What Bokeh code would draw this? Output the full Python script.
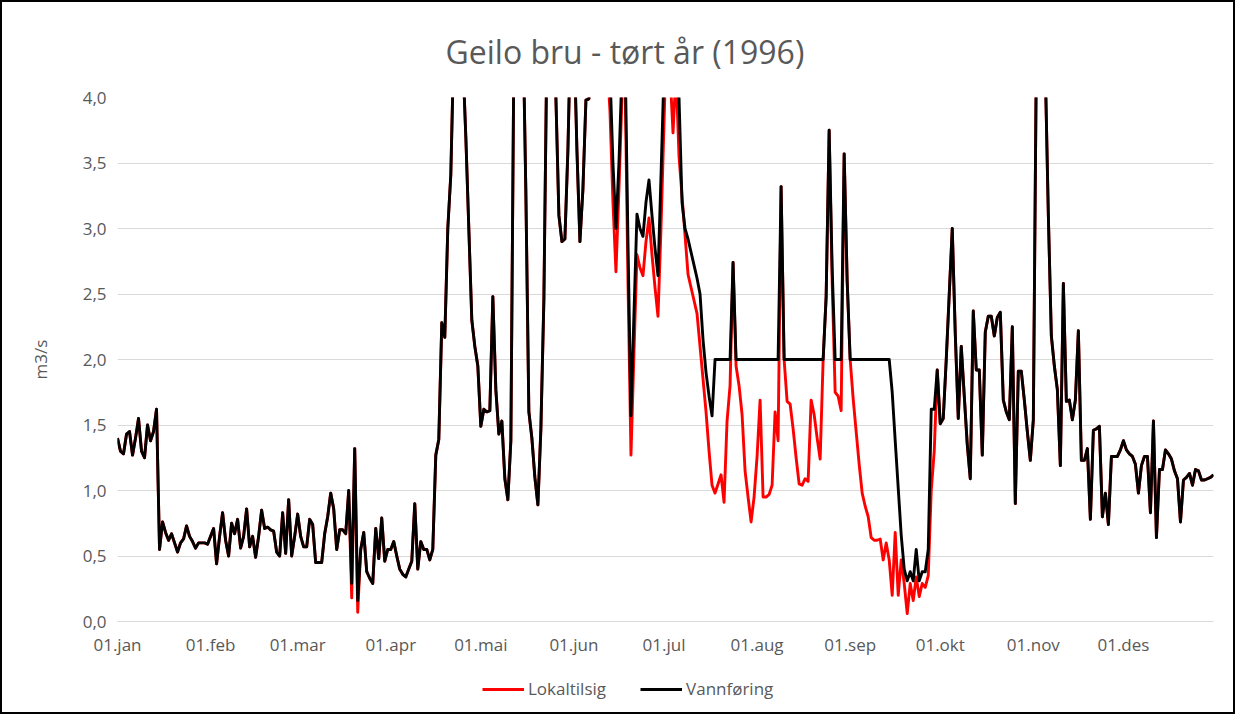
from bokeh.plotting import figure
from bokeh.layouts import column
from bokeh.models import Range1d, FixedTicker, Legend, LegendItem, CustomJSTickFormatter
from bokeh.embed import file_html
from bokeh.resources import INLINE

# ---------------- data (m3/s, one value per day of 1996) ----------------
vann_jan = [1.40, 1.30, 1.28, 1.43, 1.45, 1.27, 1.40, 1.55, 1.30, 1.25, 1.50, 1.38, 1.45, 1.62, 0.55,
            0.76, 0.68, 0.62, 0.67, 0.60, 0.53, 0.60, 0.63, 0.73, 0.65, 0.61, 0.56, 0.60, 0.60, 0.60, 0.59]
vann_feb = [0.65, 0.71, 0.44, 0.65, 0.83, 0.62, 0.50, 0.75, 0.67, 0.78, 0.56, 0.65, 0.86, 0.57, 0.65,
            0.49, 0.65, 0.85, 0.71, 0.72, 0.70, 0.69, 0.53, 0.50, 0.83, 0.52, 0.93, 0.50, 0.65]
vann_mar = [0.82, 0.65, 0.57, 0.57, 0.78, 0.74, 0.45, 0.45, 0.45, 0.67, 0.80, 0.98, 0.86, 0.55, 0.70,
            0.70, 0.67, 1.00, 0.29, 1.32, 0.16, 0.55, 0.68, 0.38, 0.33, 0.29, 0.71, 0.48, 0.79, 0.46, 0.55]
vann_apr = [0.55, 0.61, 0.50, 0.40, 0.36, 0.34, 0.40, 0.46, 0.90, 0.40, 0.61, 0.55, 0.55, 0.47, 0.55,
            1.27, 1.39, 2.28, 2.17, 3.00, 3.41, 4.40, 5.20, 5.60, 4.30, 3.70, 3.00, 2.30, 2.10, 1.95]
vann_mai = [1.49, 1.62, 1.60, 1.61, 2.48, 1.77, 1.43, 1.53, 1.09, 0.93, 1.38, 4.30, 5.50, 6.00, 4.60,
            3.27, 1.60, 1.40, 1.10, 0.89, 1.47, 2.46, 4.40, 5.50, 5.00, 4.00, 3.10, 2.90, 2.92, 3.60, 4.60]
vann_jun = [4.50, 3.60, 2.90, 3.30, 3.98, 3.99, 4.60, 5.50, 6.20, 5.80, 5.00, 4.60, 4.20, 3.50, 3.00,
            3.50, 4.20, 4.40, 2.90, 1.57, 2.35, 3.11, 3.00, 2.94, 3.20, 3.37, 3.10, 2.85, 2.64, 3.40]
vann_jul = [4.20, 5.00, 5.50, 5.00, 4.60, 4.00, 3.20, 3.00, 2.92, 2.82, 2.72, 2.62, 2.50, 2.15, 1.90,
            1.72, 1.57, 2.00, 2.00, 2.00, 2.00, 2.00, 2.00, 2.74, 2.00, 2.00, 2.00, 2.00, 2.00, 2.00, 2.00]
vann_aug = [2.00, 2.00, 2.00, 2.00, 2.00, 2.00, 2.00, 2.00, 3.32, 2.00, 2.00, 2.00, 2.00, 2.00, 2.00,
            2.00, 2.00, 2.00, 2.00, 2.00, 2.00, 2.00, 2.00, 2.48, 3.75, 2.70, 2.00, 2.00, 2.00, 3.57, 2.60]
vann_sep = [2.00, 2.00, 2.00, 2.00, 2.00, 2.00, 2.00, 2.00, 2.00, 2.00, 2.00, 2.00, 2.00, 2.00, 1.75,
            1.38, 1.02, 0.66, 0.40, 0.31, 0.38, 0.31, 0.55, 0.31, 0.38, 0.38, 0.55, 1.62, 1.62, 1.92]
vann_okt = [1.51, 1.55, 2.00, 2.50, 3.00, 2.20, 1.55, 2.10, 1.72, 1.35, 1.09, 2.37, 1.92, 1.92, 1.27,
            2.21, 2.33, 2.33, 2.18, 2.32, 2.36, 1.69, 1.60, 1.54, 2.25, 0.90, 1.91, 1.91, 1.69, 1.45, 1.23]
vann_nov = [1.54, 4.30, 5.60, 5.20, 4.20, 3.10, 2.18, 1.95, 1.77, 1.19, 2.58, 1.68, 1.69, 1.54, 1.69,
            2.22, 1.23, 1.23, 1.32, 0.78, 1.46, 1.47, 1.49, 0.80, 0.98, 0.74, 1.26, 1.26, 1.26, 1.31]
vann_des = [1.38, 1.31, 1.28, 1.26, 1.20, 0.98, 1.19, 1.26, 1.26, 0.83, 1.53, 0.64, 1.16, 1.16, 1.31,
            1.28, 1.24, 1.15, 1.09, 0.76, 1.08, 1.10, 1.13, 1.04, 1.16, 1.15, 1.08, 1.08, 1.09, 1.10, 1.12]

# Lokaltilsig: equal to Vannføring except in the months below
lok_mar = [0.82, 0.65, 0.57, 0.57, 0.78, 0.74, 0.45, 0.45, 0.45, 0.67, 0.80, 0.98, 0.86, 0.55, 0.70,
           0.70, 0.67, 1.00, 0.18, 1.32, 0.07, 0.55, 0.68, 0.38, 0.33, 0.29, 0.71, 0.48, 0.79, 0.46, 0.55]
lok_jun = [4.50, 3.60, 2.90, 3.30, 3.98, 3.99, 4.60, 5.20, 5.90, 5.50, 4.70, 4.30, 3.90, 3.20, 2.67,
           3.30, 4.00, 4.20, 2.60, 1.27, 2.05, 2.80, 2.70, 2.64, 2.90, 3.08, 2.80, 2.55, 2.33, 3.00]
lok_jul = [3.80, 4.60, 4.20, 3.73, 4.20, 3.55, 3.25, 2.95, 2.65, 2.55, 2.45, 2.35, 2.10, 1.85, 1.60,
           1.30, 1.04, 0.98, 1.05, 1.12, 0.91, 1.53, 1.80, 2.74, 1.95, 1.80, 1.58, 1.15, 0.95, 0.76, 0.95]
lok_aug = [1.26, 1.69, 0.95, 0.95, 0.97, 1.04, 1.60, 1.38, 3.32, 2.00, 1.68, 1.66, 1.47, 1.25, 1.05,
           1.04, 1.09, 1.07, 1.69, 1.58, 1.40, 1.24, 2.00, 2.48, 3.75, 2.60, 1.75, 1.72, 1.61, 3.57, 2.60]
lok_sep = [2.00, 1.70, 1.45, 1.20, 0.98, 0.88, 0.80, 0.64, 0.62, 0.62, 0.63, 0.47, 0.60, 0.47, 0.20,
           0.68, 0.20, 0.47, 0.29, 0.06, 0.29, 0.16, 0.34, 0.19, 0.29, 0.26, 0.35, 1.00, 1.30, 1.92]

month_labels = ["01.jan", "01.feb", "01.mar", "01.apr", "01.mai", "01.jun",
                "01.jul", "01.aug", "01.sep", "01.okt", "01.nov", "01.des"]
y_ticks = [0.0, 0.5, 1.0, 1.5, 2.0, 2.5, 3.0, 3.5, 4.0]
y_tick_labels = ["0,0", "0,5", "1,0", "1,5", "2,0", "2,5", "3,0", "3,5", "4,0"]
series_names = ["Lokaltilsig", "Vannføring"]
series_colors = ["#ff0000", "#000000"]

vann_months = [vann_jan, vann_feb, vann_mar, vann_apr, vann_mai, vann_jun,
               vann_jul, vann_aug, vann_sep, vann_okt, vann_nov, vann_des]
lok_months = [vann_jan, vann_feb, lok_mar, vann_apr, vann_mai, lok_jun,
              lok_jul, lok_aug, lok_sep, vann_okt, vann_nov, vann_des]

vann = [v for m in vann_months for v in m]
lokal = [v for m in lok_months for v in m]
days = list(range(len(vann)))
month_starts = []
acc = 0
for m in vann_months:
    month_starts.append(acc)
    acc += len(m)

TEXT = "#595959"
FONT = "Open Sans"
W = 1235
H_MAIN = 662
H_LEG = 52

# ---------------- main chart ----------------
p = figure(width=W, height=H_MAIN, output_backend="svg", toolbar_location=None,
           x_range=Range1d(0, len(vann) - 1), y_range=Range1d(0, 4),
           min_border_left=117, min_border_right=22, min_border_top=97,
           min_border_bottom=H_MAIN - 621,
           title="Geilo bru - tørt år (1996)")
p.outline_line_color = None
p.background_fill_color = "white"
p.border_fill_alpha = 0

p.title.align = "left"
p.title.offset = 328
p.title.standoff = 50
p.title.text_font = FONT
p.title.text_font_size = "32px"
p.title.text_font_style = "normal"
p.title.text_color = TEXT

r_lok = p.line(days, lokal, line_color=series_colors[0], line_width=2.9, line_join="round")
r_van = p.line(days, vann, line_color=series_colors[1], line_width=2.9, line_join="round")

p.xgrid.visible = False
p.ygrid.grid_line_color = "#d9d9d9"
p.ygrid.grid_line_width = 1

p.xaxis.ticker = FixedTicker(ticks=month_starts)
p.xaxis.major_label_overrides = {s: lab for s, lab in zip(month_starts, month_labels)}
p.xaxis.axis_line_color = "#d9d9d9"
p.xaxis.major_tick_line_color = None
p.xaxis.minor_tick_line_color = None
p.xaxis.major_label_standoff = 5
p.xaxis.major_label_text_font = FONT
p.xaxis.major_label_text_font_size = "17px"
p.xaxis.major_label_text_color = TEXT

p.yaxis.ticker = FixedTicker(ticks=y_ticks)
p.yaxis.formatter = CustomJSTickFormatter(args=dict(yt=y_ticks, yl=y_tick_labels), code="""
    for (let i = 0; i < yt.length; i++) { if (Math.abs(yt[i] - tick) < 1e-9) return yl[i]; }
    return "";
""")
p.yaxis.axis_line_color = None
p.yaxis.major_tick_line_color = None
p.yaxis.minor_tick_line_color = None
p.yaxis.major_label_standoff = 5
p.yaxis.major_label_text_font = FONT
p.yaxis.major_label_text_font_size = "17px"
p.yaxis.major_label_text_color = TEXT
p.yaxis.axis_label = "m3/s"
p.yaxis.axis_label_standoff = 28
p.yaxis.axis_label_text_font = FONT
p.yaxis.axis_label_text_font_size = "17px"
p.yaxis.axis_label_text_font_style = "normal"
p.yaxis.axis_label_text_color = TEXT

# ---------------- legend strip below the chart ----------------
# the same two series, drawn in a range window that shows none of them, only feed the legend
pl = figure(width=W, height=H_LEG, output_backend="svg", toolbar_location=None,
            x_range=Range1d(-3, -2), y_range=Range1d(-3, -2),
            x_axis_location=None, y_axis_location=None, min_border=0)
pl.outline_line_color = None
pl.grid.visible = False
pl.background_fill_alpha = 0
pl.border_fill_alpha = 0
leg_r = [pl.line(days, s, line_color=c, line_width=2.9) for s, c in zip([lokal, vann], series_colors)]

legend = Legend(items=[LegendItem(label=n, renderers=[r]) for n, r in zip(series_names, leg_r)],
                orientation="horizontal", location=(365, 14))
legend.border_line_color = None
legend.background_fill_alpha = 0
legend.label_text_font = FONT
legend.label_text_font_size = "17px"
legend.label_text_color = TEXT
legend.glyph_width = 42
legend.glyph_height = 20
legend.label_standoff = 4
legend.spacing = 34
legend.padding = 0
legend.margin = 0
pl.add_layout(legend)

layout = column(p, pl, spacing=0)
layout.styles = {"box-shadow": "inset 0 0 0 2px #000000", "background-color": "white"}

open("out.html", "w").write(file_html(layout, INLINE))
